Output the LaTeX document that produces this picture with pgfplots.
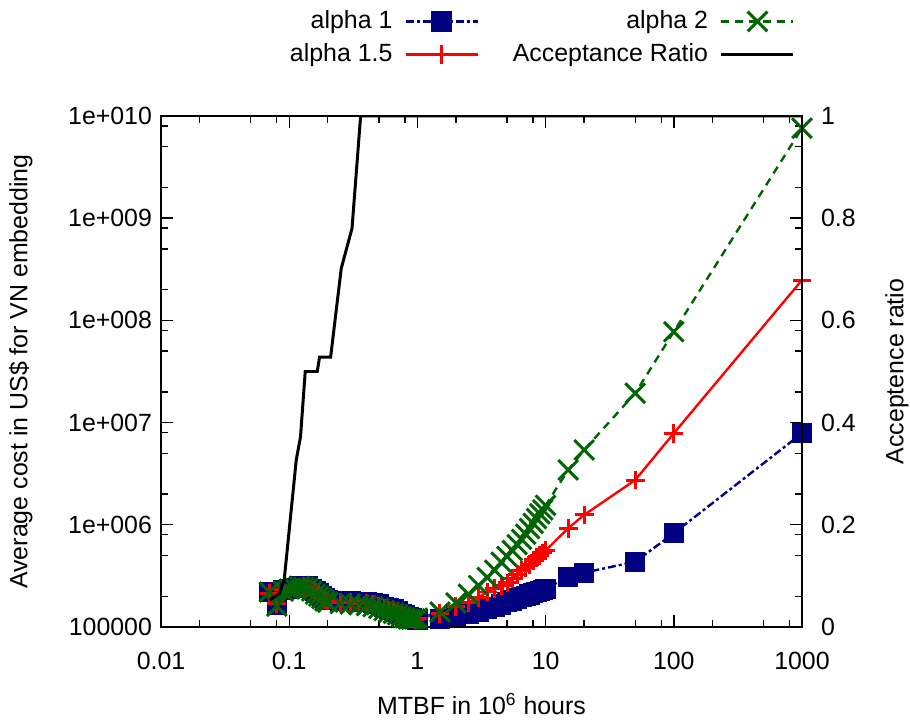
\documentclass[border=0pt]{standalone}
\usepackage{fontspec}
\setmainfont{Liberation Sans}
\usepackage{pgfplots}
\usepackage{pgfplotstable}
\pgfplotsset{compat=1.18}

% cost per series (US$), x = MTBF in 1e6 hours
\pgfplotstableread{
x      a1       a15      a2
0.07   2.20e5   2.15e5   2.20e5
0.08   1.65e5   1.70e5   1.60e5
0.09   2.30e5   2.35e5   2.25e5
0.10   2.35e5   2.30e5   2.35e5
0.11   2.40e5   2.45e5   2.40e5
0.12   2.50e5   2.45e5   2.50e5
0.13   2.45e5   2.50e5   2.45e5
0.14   2.50e5   2.45e5   2.40e5
0.15   2.35e5   2.30e5   2.25e5
0.16   2.25e5   2.20e5   2.10e5
0.17   2.15e5   2.10e5   2.00e5
0.18   2.00e5   1.95e5   1.90e5
0.19   1.90e5   1.85e5   1.80e5
0.20   1.85e5   1.80e5   1.75e5
0.25   1.80e5   1.75e5   1.70e5
0.30   1.80e5   1.75e5   1.68e5
0.35   1.75e5   1.70e5   1.65e5
0.40   1.75e5   1.70e5   1.62e5
0.45   1.72e5   1.66e5   1.58e5
0.50   1.68e5   1.60e5   1.52e5
0.55   1.58e5   1.52e5   1.45e5
0.60   1.52e5   1.47e5   1.40e5
0.65   1.48e5   1.43e5   1.36e5
0.70   1.42e5   1.38e5   1.32e5
0.75   1.35e5   1.32e5   1.27e5
0.80   1.30e5   1.27e5   1.23e5
0.85   1.26e5   1.23e5   1.20e5
0.90   1.22e5   1.20e5   1.19e5
0.95   1.20e5   1.19e5   1.20e5
1.0    1.18e5   1.20e5   1.22e5
1.5    1.20e5   1.36e5   1.40e5
2.0    1.28e5   1.58e5   1.72e5
2.5    1.35e5   1.75e5   2.10e5
3.0    1.42e5   1.95e5   2.55e5
3.5    1.50e5   2.20e5   3.05e5
4.0    1.58e5   2.40e5   3.60e5
4.5    1.66e5   2.55e5   4.30e5
5.0    1.75e5   2.70e5   4.90e5
5.5    1.82e5   3.00e5   5.60e5
6.0    1.90e5   3.25e5   6.40e5
6.5    1.96e5   3.55e5   7.20e5
7.0    2.02e5   3.80e5   8.10e5
7.5    2.08e5   4.10e5   9.20e5
8.0    2.15e5   4.45e5   1.03e6
8.5    2.20e5   4.80e5   1.15e6
9.0    2.26e5   5.00e5   1.28e6
9.5    2.30e5   5.30e5   1.40e6
10     2.36e5   5.60e5   1.55e6
15     3.10e5   9.25e5   3.44e6
20     3.40e5   1.25e6   5.40e6
50     4.35e5   2.74e6   1.94e7
100    8.26e5   7.86e6   7.75e7
1000   7.86e6   2.48e8   7.60e9
}\costdata

\pgfplotstableread{
x       r
0.071   0.053
0.084   0.066
0.0914  0.092
0.1135  0.327
0.1225  0.372
0.1334  0.500
0.1655  0.500
0.1725  0.528
0.2104  0.528
0.2548  0.702
0.309   0.780
0.3607  1.000
1000    1.000
}\ratiodata

\begin{document}
\begin{tikzpicture}
\definecolor{aone}{RGB}{0,0,128}
\definecolor{aonehalf}{RGB}{255,0,0}
\definecolor{atwo}{RGB}{0,100,0}

\useasboundingbox (0,0) rectangle (455bp,360bp);

\begin{axis}[
  scale only axis, width=320.5bp, height=255.5bp,
  at={(80.5bp,46.5bp)}, anchor=south west,
  font=\fontsize{12.5}{15}\selectfont,
  xmode=log, ymode=log,
  xmin=0.01, xmax=1000, ymin=1e5, ymax=1e10,
  axis line style={black, line width=1pt},
  every tick/.append style={black, line width=0.7pt},
  major tick length=6bp, minor tick length=3.5bp,
  tick align=inside,
  xtick={0.01,0.1,1,10,100,1000},
  xticklabels={0.01,0.1,1,10,100,1000},
  minor xtick={0.02,0.05,0.08,0.2,0.5,0.8,2,5,8,20,50,80,200,500,800},
  ytick={1e5,1e6,1e7,1e8,1e9,1e10},
  yticklabels={100000,1e+006,1e+007,1e+008,1e+009,1e+010},
  minor ytick={2e5,5e5,8e5,2e6,5e6,8e6,2e7,5e7,8e7,2e8,5e8,8e8,2e9,5e9,8e9},
  xtick pos=both, ytick pos=both,
  xticklabel pos=bottom, yticklabel pos=left,
  xticklabel style={yshift=-9bp},
  yticklabel style={xshift=-1bp},
  xlabel={MTBF in 10\textsuperscript{6} hours},
  xlabel style={at={(axis description cs:0.5,-0.151)}, anchor=center},
  ylabel={Average cost in US\$ for VN embedding},
  ylabel style={at={(axis description cs:-0.219,0.5)}, anchor=center},
  legend image code/.code={
    \path (0bp,0bp);
    \draw[mark repeat=2, mark phase=2, #1] plot coordinates {(4bp,0bp) (22bp,0bp) (40bp,0bp)};
  },
  legend columns=2,
  legend plot pos=right,
  legend cell align=right,
  legend style={draw=none, fill=none, font=\fontsize{12.5}{15}\selectfont,
    at={(axis description cs:0.185,1.222)}, anchor=north west,
    row sep=2bp,
    /tikz/every even column/.append style={column sep=15bp}},
]

\addplot[aone, line width=1.2pt, dash pattern=on 4pt off 1.5pt on 1.5pt off 1.5pt,
  mark=square*, mark size=4.5pt, mark options={solid, fill=aone}, forget plot]
  table[x=x, y=a1] {\costdata};
\addplot[aonehalf, line width=1.2pt,
  mark=+, mark size=4.7pt, mark options={solid, line width=1.5pt}, forget plot]
  table[x=x, y=a15] {\costdata};
\addplot[atwo, line width=1.2pt, dash pattern=on 4pt off 3pt,
  mark=x, mark size=7pt, mark options={solid, line width=1.5pt}, forget plot]
  table[x=x, y=a2] {\costdata};

\addlegendimage{aone, line width=1.2pt, dash pattern=on 4pt off 1.5pt on 1.5pt off 1.5pt,
  mark=square*, mark size=4.5pt, mark options={solid, fill=aone}}
\addlegendentry{alpha 1}
\addlegendimage{atwo, line width=1.2pt, dash pattern=on 4pt off 3pt,
  mark=x, mark size=7pt, mark options={solid, line width=1.5pt}}
\addlegendentry{alpha 2}
\addlegendimage{aonehalf, line width=1.2pt,
  mark=+, mark size=4.7pt, mark options={solid, line width=1.5pt}}
\addlegendentry{alpha 1.5}
\addlegendimage{black, line width=1.5pt}
\addlegendentry{Acceptance Ratio}
\end{axis}

\begin{axis}[
  scale only axis, width=320.5bp, height=255.5bp,
  at={(80.5bp,46.5bp)}, anchor=south west,
  font=\fontsize{12.5}{15}\selectfont,
  xmode=log, xmin=0.01, xmax=1000,
  ymin=0, ymax=1,
  axis x line=none, axis y line*=right,
  axis line style={black, line width=1pt},
  every tick/.append style={black, line width=0.7pt},
  major tick length=6bp,
  tick align=inside,
  ytick={0,0.2,0.4,0.6,0.8,1},
  yticklabels={0,0.2,0.4,0.6,0.8,1},
  yticklabel style={xshift=6bp},
  ylabel={Acceptence ratio},
  ylabel style={at={(axis description cs:1.148,0.5)}, anchor=center},
]
\addplot[black, line width=1.5pt, no markers] table[x=x, y=r] {\ratiodata};
\end{axis}

\end{tikzpicture}
\end{document}
